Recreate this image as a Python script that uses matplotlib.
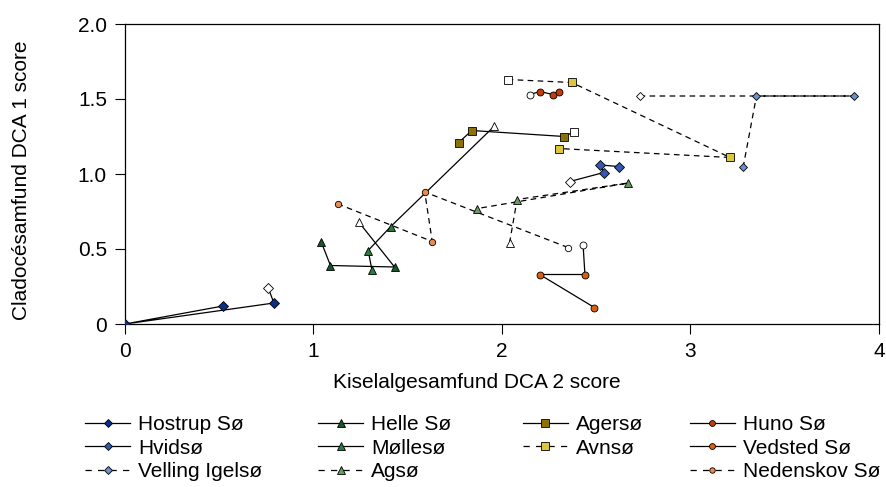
import matplotlib
matplotlib.use("Agg")
import matplotlib.pyplot as plt
from matplotlib.lines import Line2D

plt.rcParams['font.family'] = ['Liberation Sans', 'DejaVu Sans']

# Each lake: DCA scores; the first sample is the reference (drawn hollow)
lakes = ["Hostrup Sø", "Hvidsø", "Velling Igelsø",
         "Helle Sø", "Møllesø", "Agsø",
         "Agersø", "Avnsø",
         "Huno Sø", "Vedsted Sø", "Nedenskov Sø"]

hostrup_x = [0.76, 0.79, 0.00, 0.52]
hostrup_y = [0.24, 0.14, 0.00, 0.12]
hvidso_x = [2.36, 2.54, 2.52, 2.62]
hvidso_y = [0.95, 1.01, 1.06, 1.05]
velling_x = [2.73, 3.87, 3.35, 3.28]
velling_y = [1.52, 1.52, 1.52, 1.05]
helle_x = [1.24, 1.43, 1.09, 1.04]
helle_y = [0.68, 0.38, 0.39, 0.55]
mollesoe_x = [1.96, 1.41, 1.29, 1.31]
mollesoe_y = [1.32, 0.65, 0.49, 0.36]
agso_x = [2.04, 2.08, 2.67, 1.87]
agso_y = [0.54, 0.83, 0.94, 0.77]
agerso_x = [2.38, 2.33, 1.84, 1.77]
agerso_y = [1.28, 1.25, 1.29, 1.21]
avnso_x = [2.03, 2.37, 3.21, 2.30]
avnso_y = [1.63, 1.61, 1.11, 1.17]
huno_x = [2.15, 2.20, 2.27, 2.30]
huno_y = [1.53, 1.55, 1.53, 1.55]
vedsted_x = [2.43, 2.44, 2.20, 2.49]
vedsted_y = [0.53, 0.33, 0.33, 0.11]
nedenskov_x = [2.35, 1.59, 1.63, 1.13]
nedenskov_y = [0.51, 0.88, 0.55, 0.80]

xs = [hostrup_x, hvidso_x, velling_x, helle_x, mollesoe_x, agso_x,
      agerso_x, avnso_x, huno_x, vedsted_x, nedenskov_x]
ys = [hostrup_y, hvidso_y, velling_y, helle_y, mollesoe_y, agso_y,
      agerso_y, avnso_y, huno_y, vedsted_y, nedenskov_y]

colors = ["#0b2c8c", "#3358ad", "#6e90cc",
          "#17582a", "#2c7a3c", "#6a9a64",
          "#8c7206", "#dcc63e",
          "#c43c0a", "#d9600f", "#ea8c4c"]
markers = ["D", "D", "D", "^", "^", "^", "s", "s", "o", "o", "o"]
sizes = [4.8, 4.8, 4.3, 6.2, 6.2, 6.2, 6.0, 6.0, 5.0, 5.0, 4.6]
dashed = (0, (4.5, 3.5))
styles = ["-", "-", dashed, "-", "-", dashed,
          "-", dashed, "-", "-", dashed]

FS = 15

fig = plt.figure(figsize=(8.87, 4.87), dpi=100)
ax = fig.add_axes([125 / 887, 1 - 324 / 487, 754 / 887, 300 / 487])

for x, y, c, m, s, ls in zip(xs, ys, colors, markers, sizes, styles):
    ax.plot(x, y, color="black", lw=0.9, ls=ls, zorder=2)
    ax.plot(x[1:], y[1:], ls="none", marker=m, ms=s, mfc=c, mec="black",
            mew=0.6, zorder=3)
    ax.plot(x[:1], y[:1], ls="none", marker=m, ms=s, mfc="white",
            mec="black", mew=0.6, zorder=3)

ax.set_xlim(0, 4)
ax.set_ylim(0, 2)
ax.set_xticks([0, 1, 2, 3, 4])
ax.set_xticklabels(["0", "1", "2", "3", "4"])
ax.set_yticks([0, 0.5, 1.0, 1.5, 2.0])
ax.set_yticklabels(["0", "0.5", "1.0", "1.5", "2.0"])
ax.tick_params(direction="out", length=7, width=0.8, labelsize=FS,
               colors="black", pad=6)
for sp in ax.spines.values():
    sp.set_linewidth(0.9)

fig.text(477 / 887, 1 - 383 / 487, "Kiselalgesamfund DCA 2 score",
         fontsize=FS, ha="center", va="center")
fig.text(22 / 887, 1 - 180 / 487, "Cladocésamfund DCA 1 score",
         fontsize=FS, ha="center", va="center", rotation=90)

# Legend: four columns, placed separately
columns = [[0, 1, 2], [3, 4, 5], [6, 7], [8, 9, 10]]
col_x = [85, 318, 523, 690]
for idxs, cx in zip(columns, col_x):
    handles = []
    for i in idxs:
        ls = (0, (5, 5)) if styles[i] != "-" else "-"
        handles.append(Line2D([], [], color="black", lw=0.9, ls=ls,
                              marker=markers[i], ms=sizes[i] * 0.85,
                              mfc=colors[i], mec="black", mew=0.6))
    fig.legend(handles, [lakes[i] for i in idxs], loc="upper left",
               bbox_to_anchor=(cx / 887, 1 - 415 / 487), frameon=False,
               fontsize=FS, handlelength=2.16, handletextpad=0.38,
               labelspacing=0.22, borderpad=0, borderaxespad=0)

fig.savefig("out.png", dpi=100, facecolor="white")
